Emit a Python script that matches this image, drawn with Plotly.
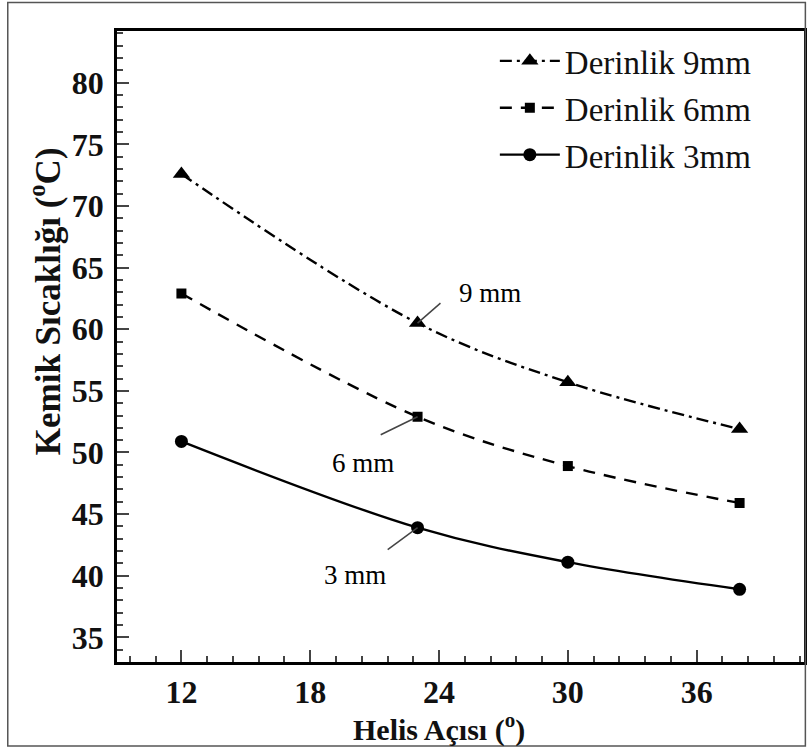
import plotly.graph_objects as go

helis_acisi = [12, 23, 30, 38]
derinlik_9mm = [72.6, 60.5, 55.7, 51.9]
derinlik_6mm = [62.9, 52.9, 48.9, 45.9]
derinlik_3mm = [50.9, 43.9, 41.1, 38.9]
series_names = ["Derinlik 9mm", "Derinlik 6mm", "Derinlik 3mm"]
label_texts = ["9 mm", "6 mm", "3 mm"]
x_ticks = [12, 18, 24, 30, 36]
y_ticks = [35, 40, 45, 50, 55, 60, 65, 70, 75, 80]

FONT = "Liberation Serif"
fig = go.Figure()

styles = [("12px,5px,3px,5px", "triangle-up", 15), ("12px,9px", "square", 10), ("solid", "circle", 13)]
for name, ys, (dash, sym, msz) in zip(series_names, [derinlik_9mm, derinlik_6mm, derinlik_3mm], styles):
    fig.add_trace(go.Scatter(
        x=helis_acisi, y=ys, name=name, legendgroup=name,
        mode="lines+markers", line=dict(color="black", width=2.4, dash=dash, shape="spline"),
        marker=dict(symbol=sym, size=msz, color="black"),
    ))

# leader lines and labels at x = 23
xpx = 690 / 32.0
ypx = 631 / 51.2
idx = 1
leaders = [
    (derinlik_9mm[idx], 23, 20, 73, 30),
    (derinlik_6mm[idx], -37, -18, -55, -46),
    (derinlik_3mm[idx], -30, -22, -63, -47),
]
for (yv, dx, dy, tx, ty), txt in zip(leaders, label_texts):
    x0 = helis_acisi[idx]
    fig.add_shape(type="line", x0=x0, y0=yv, x1=x0 + dx / xpx, y1=yv + dy / ypx,
                  line=dict(color="#444", width=1.5))
    fig.add_annotation(x=x0 + tx / xpx, y=yv + ty / ypx, text=txt, showarrow=False,
                       font=dict(family=FONT, size=27, color="black"))

# axis titles (placed as in the reference, off-centre)
fig.add_annotation(xref="paper", yref="paper", x=-0.104, y=0.571, textangle=-90,
                   xanchor="center", yanchor="middle",
                   text="Kemik Sıcaklığı (<sup>o</sup>C)", showarrow=False,
                   font=dict(family=FONT, size=35, color="#111", weight="bold"))
fig.add_annotation(xref="paper", yref="paper", x=0.468, y=-0.104,
                   xanchor="center", yanchor="middle",
                   text="Helis Açısı (<sup>o</sup>)", showarrow=False,
                   font=dict(family=FONT, size=30, color="#111", weight="bold"))

# outer frame
fig.add_shape(type="rect", xref="paper", yref="paper", x0=-0.159, x1=1.002, y0=-0.133, y1=1.045,
              line=dict(color="#555", width=1.5))

fig.update_layout(
    width=810, height=753,
    margin=dict(l=117, r=3, t=31, b=91),
    paper_bgcolor="white", plot_bgcolor="white",
    font=dict(family=FONT, color="black"),
    showlegend=True,
    legend=dict(x=0.55, y=0.997, xanchor="left", yanchor="top", bgcolor="rgba(0,0,0,0)",
                font=dict(family=FONT, size=33, color="#111"), tracegroupgap=1, itemwidth=60),
    xaxis=dict(range=[9, 41], tickvals=x_ticks, ticks="inside", ticklen=12, tickwidth=2,
               showline=True, linecolor="black", linewidth=2.5, mirror=True, showgrid=False,
               zeroline=False,
               minor=dict(dtick=1.2, tick0=0, ticks="inside", ticklen=6, tickwidth=1.5, showgrid=False),
               tickfont=dict(family=FONT, size=32, color="#111", weight="bold")),
    yaxis=dict(range=[33, 84.2], tickvals=y_ticks, ticks="inside", ticklen=12, tickwidth=2,
               showline=True, linecolor="black", linewidth=2.5, mirror=True, showgrid=False,
               zeroline=False, ticklabelstandoff=4,
               minor=dict(dtick=1, ticks="inside", ticklen=6, tickwidth=1.5, showgrid=False),
               tickfont=dict(family=FONT, size=32, color="#111", weight="bold")),
)

fig.write_html("out.html")
